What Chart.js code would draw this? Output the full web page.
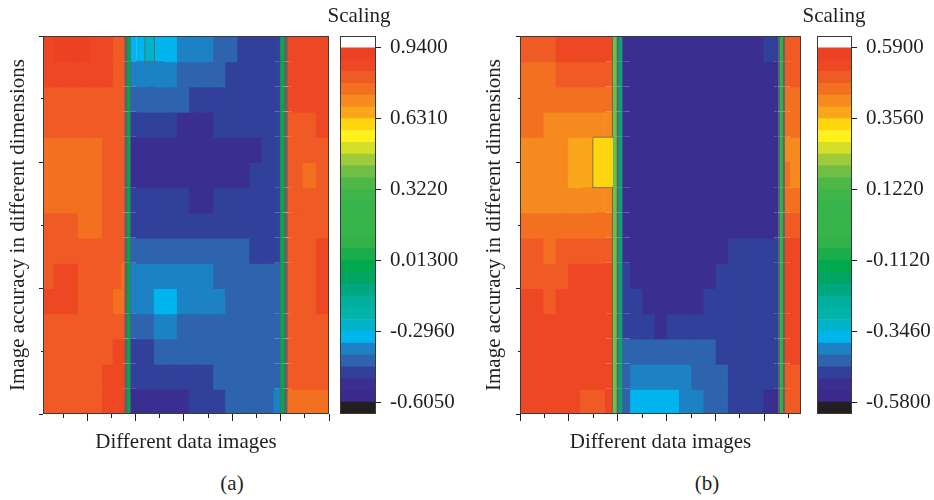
<!DOCTYPE html>
<html>
<head>
<meta charset="utf-8">
<script src="https://cdn.jsdelivr.net/npm/chart.js@4.4.1/dist/chart.umd.min.js"></script>
<style>
  body { margin: 0; background: #fff; }
  #wrap { position: relative; width: 934px; height: 500px; }
  canvas { position: absolute; top: 0; }
  .cap { position: absolute; width: 80px; margin-left: -40px; text-align: center;
         font: 21px "Liberation Serif", serif; line-height: 24px; color: #231f20; }
</style>
</head>
<body>
<div id="wrap">
  <canvas id="mapA" width="340" height="470" style="left:0px"></canvas>
  <canvas id="barA" width="140" height="430" style="left:330px"></canvas>
  <canvas id="mapB" width="336" height="470" style="left:476px"></canvas>
  <canvas id="barB" width="127" height="430" style="left:807px"></canvas>
  <div class="cap" style="left:359px; top:3px">Scaling</div>
  <div class="cap" style="left:834px; top:3px">Scaling</div>
  <div class="cap" style="left:232px; top:471px">(a)</div>
  <div class="cap" style="left:707px; top:471px">(b)</div>
</div>
<script>
// sample positions along the image axis (a) and (b), and along the dimension axis
const xsA = [0.4, 0.9, 1.4, 1.9, 2.4, 2.9, 3.3, 3.5, 3.7, 3.9, 4.2, 4.6, 5.0, 5.5, 6.0, 6.5, 7.0, 7.5, 8.0, 8.5, 9.0, 9.5, 9.9, 10.1, 10.3, 10.7, 11.2, 11.8];
const xsB = [0.25, 0.75, 1.25, 1.75, 2.25, 2.75, 3.25, 3.7, 3.9, 4.1, 4.3, 4.8, 5.3, 5.8, 6.3, 6.8, 7.3, 7.8, 8.3, 8.8, 9.3, 9.8, 10.2, 10.5, 10.7, 10.9, 11.3];
const ysRows = [5.8, 5.4, 5.0, 4.6, 4.2, 3.8, 3.4, 3.0, 2.6, 2.2, 1.8, 1.4, 1.0, 0.6, 0.2];

const xTicksA = [1, 2, 3, 4, 5, 6, 7, 8, 9, 10, 11, 12];
const xTicksB = [0, 1, 2, 3, 4, 5, 6, 7, 8, 9, 10, 11];
const yTicks = [0, 1, 2, 3, 4, 5, 6];

// colour scale labels (top to bottom)
const scaleLabelsA = ['0.9400', '0.6310', '0.3220', '0.01300', '-0.2960', '-0.6050'];
const scaleLabelsB = ['0.5900', '0.3560', '0.1220', '-0.1120', '-0.3460', '-0.5800'];

// scaling values, one row per dimension (top row first)
const gridA = [
  [0.86, 0.91, 0.91, 0.91, 0.86, 0.86, 0.81, 0.81, 0.00, -0.32, -0.32, -0.27, -0.32, -0.32, -0.37, -0.37, -0.37, -0.43, -0.43, -0.48, -0.48, -0.48, -0.48, 0.00, 0.86, 0.86, 0.86, 0.86],
  [0.86, 0.86, 0.86, 0.86, 0.86, 0.86, 0.81, 0.81, 0.00, -0.37, -0.37, -0.37, -0.37, -0.37, -0.43, -0.43, -0.43, -0.43, -0.48, -0.48, -0.48, -0.48, -0.48, 0.00, 0.86, 0.86, 0.86, 0.86],
  [0.81, 0.81, 0.81, 0.81, 0.81, 0.81, 0.81, 0.81, 0.00, -0.43, -0.43, -0.43, -0.43, -0.43, -0.43, -0.48, -0.48, -0.48, -0.48, -0.48, -0.48, -0.48, -0.48, 0.00, 0.86, 0.86, 0.86, 0.86],
  [0.81, 0.81, 0.81, 0.81, 0.81, 0.81, 0.81, 0.81, 0.00, -0.48, -0.48, -0.48, -0.48, -0.48, -0.53, -0.53, -0.53, -0.48, -0.48, -0.48, -0.48, -0.48, -0.48, 0.00, 0.81, 0.81, 0.81, 0.86],
  [0.76, 0.76, 0.76, 0.76, 0.76, 0.81, 0.81, 0.81, 0.00, -0.53, -0.53, -0.53, -0.53, -0.53, -0.53, -0.53, -0.53, -0.53, -0.53, -0.53, -0.53, -0.48, -0.48, 0.00, 0.81, 0.81, 0.81, 0.81],
  [0.76, 0.76, 0.76, 0.76, 0.76, 0.81, 0.81, 0.81, 0.00, -0.53, -0.53, -0.53, -0.53, -0.53, -0.53, -0.53, -0.53, -0.53, -0.53, -0.53, -0.48, -0.48, -0.48, 0.00, 0.81, 0.81, 0.76, 0.81],
  [0.76, 0.76, 0.76, 0.76, 0.76, 0.81, 0.81, 0.81, 0.00, -0.48, -0.48, -0.48, -0.48, -0.48, -0.48, -0.53, -0.53, -0.48, -0.48, -0.48, -0.48, -0.48, -0.48, 0.00, 0.81, 0.81, 0.81, 0.81],
  [0.81, 0.81, 0.81, 0.76, 0.76, 0.81, 0.81, 0.81, 0.00, -0.48, -0.48, -0.48, -0.48, -0.48, -0.48, -0.48, -0.48, -0.48, -0.48, -0.48, -0.48, -0.48, -0.48, 0.00, 0.81, 0.81, 0.81, 0.81],
  [0.81, 0.81, 0.81, 0.81, 0.81, 0.81, 0.81, 0.81, 0.00, -0.43, -0.43, -0.43, -0.43, -0.43, -0.43, -0.43, -0.43, -0.43, -0.43, -0.43, -0.48, -0.48, -0.48, 0.00, 0.81, 0.81, 0.81, 0.86],
  [0.81, 0.86, 0.86, 0.81, 0.81, 0.81, 0.81, 0.76, 0.00, -0.37, -0.37, -0.37, -0.37, -0.37, -0.37, -0.37, -0.37, -0.43, -0.43, -0.43, -0.43, -0.43, -0.43, 0.00, 0.81, 0.81, 0.81, 0.86],
  [0.86, 0.86, 0.86, 0.81, 0.81, 0.81, 0.76, 0.76, 0.00, -0.37, -0.37, -0.37, -0.32, -0.32, -0.37, -0.37, -0.37, -0.37, -0.43, -0.43, -0.43, -0.43, -0.43, 0.00, 0.81, 0.81, 0.81, 0.86],
  [0.81, 0.81, 0.81, 0.81, 0.81, 0.81, 0.81, 0.81, 0.00, -0.43, -0.43, -0.43, -0.37, -0.37, -0.43, -0.43, -0.43, -0.43, -0.43, -0.43, -0.43, -0.43, -0.43, 0.00, 0.81, 0.81, 0.81, 0.81],
  [0.81, 0.81, 0.81, 0.81, 0.81, 0.81, 0.86, 0.86, 0.00, -0.48, -0.48, -0.48, -0.43, -0.43, -0.43, -0.43, -0.43, -0.43, -0.43, -0.43, -0.43, -0.43, -0.43, 0.00, 0.81, 0.81, 0.81, 0.81],
  [0.81, 0.81, 0.81, 0.81, 0.81, 0.86, 0.86, 0.86, 0.00, -0.48, -0.48, -0.48, -0.48, -0.48, -0.48, -0.48, -0.48, -0.43, -0.43, -0.43, -0.43, -0.43, -0.43, 0.00, 0.81, 0.81, 0.81, 0.81],
  [0.81, 0.81, 0.81, 0.81, 0.81, 0.86, 0.86, 0.86, 0.00, -0.53, -0.53, -0.53, -0.53, -0.53, -0.53, -0.48, -0.48, -0.48, -0.43, -0.43, -0.43, -0.43, -0.37, 0.00, 0.76, 0.76, 0.76, 0.76]
];

const gridB = [
  [0.49, 0.49, 0.49, 0.53, 0.53, 0.53, 0.53, 0.53, 0.19, -0.20, -0.52, -0.52, -0.52, -0.52, -0.52, -0.52, -0.52, -0.52, -0.52, -0.52, -0.52, -0.52, -0.48, -0.48, -0.05, 0.49, 0.49],
  [0.45, 0.45, 0.45, 0.49, 0.49, 0.49, 0.49, 0.49, 0.19, -0.20, -0.52, -0.52, -0.52, -0.52, -0.52, -0.52, -0.52, -0.52, -0.52, -0.52, -0.52, -0.52, -0.52, -0.52, -0.05, 0.49, 0.49],
  [0.45, 0.45, 0.45, 0.45, 0.45, 0.45, 0.45, 0.45, 0.19, -0.20, -0.52, -0.52, -0.52, -0.52, -0.52, -0.52, -0.52, -0.52, -0.52, -0.52, -0.52, -0.52, -0.52, -0.52, -0.05, 0.45, 0.45],
  [0.45, 0.45, 0.41, 0.41, 0.41, 0.41, 0.41, 0.41, 0.19, -0.20, -0.52, -0.52, -0.52, -0.52, -0.52, -0.52, -0.52, -0.52, -0.52, -0.52, -0.52, -0.52, -0.52, -0.52, -0.05, 0.45, 0.45],
  [0.41, 0.41, 0.41, 0.41, 0.38, 0.38, 0.34, 0.34, 0.19, -0.20, -0.52, -0.52, -0.52, -0.52, -0.52, -0.52, -0.52, -0.52, -0.52, -0.52, -0.52, -0.52, -0.52, -0.52, -0.05, 0.41, 0.41],
  [0.41, 0.41, 0.41, 0.41, 0.38, 0.38, 0.34, 0.34, 0.19, -0.20, -0.52, -0.52, -0.52, -0.52, -0.52, -0.52, -0.52, -0.52, -0.52, -0.52, -0.52, -0.52, -0.52, -0.52, -0.05, 0.45, 0.41],
  [0.41, 0.41, 0.41, 0.41, 0.41, 0.41, 0.41, 0.41, 0.19, -0.20, -0.52, -0.52, -0.52, -0.52, -0.52, -0.52, -0.52, -0.52, -0.52, -0.52, -0.52, -0.52, -0.52, -0.52, -0.05, 0.45, 0.45],
  [0.45, 0.45, 0.45, 0.45, 0.45, 0.45, 0.45, 0.45, 0.19, -0.20, -0.52, -0.52, -0.52, -0.52, -0.52, -0.52, -0.52, -0.52, -0.52, -0.52, -0.52, -0.52, -0.52, -0.52, -0.05, 0.49, 0.49],
  [0.49, 0.49, 0.45, 0.49, 0.49, 0.49, 0.49, 0.49, 0.19, -0.20, -0.52, -0.52, -0.52, -0.52, -0.52, -0.52, -0.52, -0.52, -0.52, -0.48, -0.48, -0.48, -0.48, -0.48, -0.05, 0.53, 0.53],
  [0.49, 0.49, 0.49, 0.49, 0.53, 0.53, 0.53, 0.53, 0.19, -0.20, -0.48, -0.52, -0.52, -0.52, -0.52, -0.52, -0.52, -0.52, -0.48, -0.48, -0.48, -0.48, -0.48, -0.48, -0.05, 0.53, 0.53],
  [0.53, 0.53, 0.49, 0.53, 0.53, 0.53, 0.53, 0.53, 0.19, -0.20, -0.48, -0.48, -0.52, -0.52, -0.52, -0.52, -0.52, -0.48, -0.48, -0.48, -0.48, -0.48, -0.48, -0.48, -0.05, 0.53, 0.53],
  [0.53, 0.53, 0.53, 0.53, 0.53, 0.53, 0.53, 0.53, 0.19, -0.20, -0.48, -0.48, -0.48, -0.52, -0.48, -0.48, -0.48, -0.48, -0.48, -0.48, -0.48, -0.48, -0.48, -0.48, -0.05, 0.53, 0.53],
  [0.53, 0.53, 0.53, 0.53, 0.53, 0.53, 0.53, 0.53, 0.19, -0.20, -0.44, -0.44, -0.44, -0.44, -0.44, -0.44, -0.44, -0.44, -0.48, -0.48, -0.48, -0.48, -0.48, -0.48, -0.05, 0.53, 0.53],
  [0.53, 0.53, 0.53, 0.53, 0.53, 0.53, 0.53, 0.53, 0.19, -0.20, -0.44, -0.40, -0.40, -0.40, -0.40, -0.40, -0.44, -0.44, -0.44, -0.48, -0.48, -0.48, -0.48, -0.48, -0.05, 0.49, 0.49],
  [0.53, 0.53, 0.53, 0.53, 0.53, 0.49, 0.49, 0.53, 0.19, -0.20, -0.44, -0.37, -0.37, -0.37, -0.37, -0.40, -0.40, -0.44, -0.44, -0.48, -0.48, -0.48, -0.52, -0.52, -0.05, 0.49, 0.49]
];

// 30-step rainbow palette, low to high
const PALETTE = ['#3b2a8c', '#3a2e90', '#31409a', '#2e63ad', '#1c82c5', '#00b5ee', '#00b2ca', '#00b4aa',
  '#00b09c', '#00a880', '#00a562', '#00a84e', '#1aae4b', '#31b34a', '#37b44a', '#37b44a', '#38b44a',
  '#3fb54a', '#4db748', '#70be44', '#9ecb3c', '#d3df29', '#fff11c', '#ffd60d', '#faa61a', '#f68a1f',
  '#f37021', '#f05a24', '#ee4724', '#ed4123'];
const BELOW = '#231f20', ABOVE = '#ffffff';
const INK = '#231f20';
const LINE = '#5b6663';

Chart.defaults.font.family = '"Liberation Serif", "Times New Roman", serif';
Chart.defaults.font.size = 21;
Chart.defaults.color = INK;

function colorFor(v, vmin, vmax) {
  const step = (vmax - vmin) / PALETTE.length;
  const k = Math.floor((v - vmin) / step);
  if (k < 0) return BELOW;
  if (k >= PALETTE.length) return ABOVE;
  return PALETTE[k];
}

const frame = {
  id: 'frame',
  afterDatasetsDraw(chart) {
    const {ctx, chartArea: a} = chart;
    ctx.save();
    ctx.strokeStyle = '#3a3a3a';
    ctx.lineWidth = 1;
    ctx.strokeRect(Math.round(a.left) + 0.5, Math.round(a.top) + 0.5,
      Math.round(a.right - a.left) - 1, Math.round(a.bottom - a.top) - 1);
    ctx.restore();
  }
};

function heatmap(id, xs, grid, xMin, xMax, xTicks, labels, yAxisWidth) {
  const vmax = parseFloat(labels[0]);
  const vmin = parseFloat(labels[labels.length - 1]);
  const majors = labels.map(Number);
  const half = Math.abs(ysRows[0] - ysRows[1]) / 2;
  // contour lines where neighbouring cells sit on both sides of labelled levels;
  // several levels packed together give a heavier line
  const lineW = (a, b) => {
    if (typeof b !== 'number') return 0;
    return majors.filter(l => (a - l) * (b - l) < 0).length;
  };

  const datasets = grid.map((row, i) => ({
    data: row.map((v, j) => ({x: xs[j], y: [ysRows[i] - half, ysRows[i] + half]})),
    backgroundColor: row.map(v => colorFor(v, vmin, vmax)),
    borderColor: LINE,
    borderWidth: row.map((v, j) => ({
      top: lineW(v, grid[i - 1] ? grid[i - 1][j] : undefined),
      bottom: lineW(v, grid[i + 1] ? grid[i + 1][j] : undefined),
      left: lineW(v, row[j - 1]),
      right: lineW(v, row[j + 1])
    })),
    borderSkipped: false,
    inflateAmount: 1,
    barThickness: 'flex',
    barPercentage: 1,
    categoryPercentage: 1
  }));

  new Chart(document.getElementById(id), {
    type: 'bar',
    data: {datasets},
    options: {
      responsive: false,
      animation: false,
      events: [],
      layout: {padding: {top: 36, right: 11, left: 0, bottom: 0}},
      plugins: {legend: {display: false}, tooltip: {enabled: false}},
      scales: {
        x: {
          type: 'linear', min: xMin, max: xMax, stacked: true, offset: false,
          afterBuildTicks: s => { s.ticks = xTicks.map(v => ({value: v})); },
          afterFit: s => { s.height = 56; },
          ticks: {display: false},
          grid: {
            offset: false, drawOnChartArea: false, tickLength: 7, tickColor: INK,
            tickBorderDash: c => (c.tick && c.tick.value % 2 === 0) ? [] : [4, 100]
          },
          border: {display: false},
          title: {display: true, text: 'Different data images', padding: {top: 0, bottom: 15}}
        },
        y: {
          type: 'linear', min: 0, max: 6, stacked: false,
          afterBuildTicks: s => { s.ticks = yTicks.map(v => ({value: v})); },
          afterFit: s => { s.width = yAxisWidth; },
          ticks: {display: false},
          grid: {
            drawOnChartArea: false, tickLength: 4, tickColor: INK,
            tickBorderDash: c => (c.tick && c.tick.value % 2 === 0) ? [] : [0, 2, 2, 100]
          },
          border: {display: false},
          title: {display: true, text: 'Image accuracy in different dimensions',
            padding: {top: 6, bottom: 0}}
        }
      }
    },
    plugins: [frame]
  });
}

function colorbar(id, labels, yAxisWidth) {
  const vmax = parseFloat(labels[0]);
  const vmin = parseFloat(labels[labels.length - 1]);
  const step = (vmax - vmin) / PALETTE.length;
  const bands = [BELOW, ...PALETTE, ABOVE];
  const datasets = bands.map((c, k) => ({
    data: [[vmin + (k - 1) * step, vmin + k * step]],
    backgroundColor: c,
    grouped: false,
    barPercentage: 1,
    categoryPercentage: 1
  }));

  new Chart(document.getElementById(id), {
    type: 'bar',
    data: {labels: [''], datasets},
    options: {
      responsive: false,
      animation: false,
      events: [],
      layout: {padding: {left: 10, right: 0, top: 0, bottom: 16}},
      plugins: {legend: {display: false}, tooltip: {enabled: false}},
      scales: {
        x: {
          position: 'top',
          ticks: {display: false},
          grid: {display: false},
          border: {display: false},
          afterFit: s => { s.height = 36; }
        },
        y: {
          position: 'right',
          min: vmin - step, max: vmax + step,
          afterBuildTicks: s => { s.ticks = labels.map(t => ({value: parseFloat(t)})); },
          afterFit: s => { s.width = yAxisWidth; s.paddingTop = 0; s.paddingBottom = 0; },
          ticks: {callback: (v, i) => labels[i], padding: 9, autoSkip: false},
          grid: {drawOnChartArea: false, tickLength: 5, tickColor: INK},
          border: {display: false}
        }
      }
    },
    plugins: [frame]
  });
}

heatmap('mapA', xsA, gridA, 0.17, 12, xTicksA, scaleLabelsA, 43);
colorbar('barA', scaleLabelsA, 94);
heatmap('mapB', xsB, gridB, 0, 11.5, xTicksB, scaleLabelsB, 44);
colorbar('barB', scaleLabelsB, 82);
</script>
</body>
</html>
